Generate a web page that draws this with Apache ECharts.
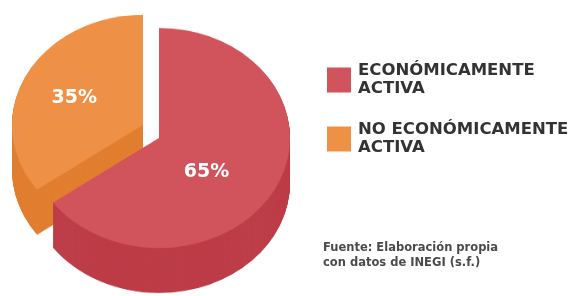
<!DOCTYPE html>
<html><head><meta charset="utf-8">
<script src="https://cdn.jsdelivr.net/npm/echarts@6/dist/echarts.min.js"></script>
<style>
html,body{margin:0;padding:0;background:#fff;overflow:hidden;width:572px;height:296px}
#pie{position:absolute;left:0;top:0;width:572px;height:353px;transform:scaleY(0.84);transform-origin:0 0}
#over{position:absolute;left:0;top:0;width:572px;height:296px}
</style></head><body>
<div id="pie"></div><div id="over"></div>
<script>
// ---- data ----
const categories = ['ECONÓMICAMENTE ACTIVA', 'NO ECONÓMICAMENTE ACTIVA'];
const values = [65, 35];
const sourceLines = ['Fuente: Elaboración propia', 'con datos de INEGI (s.f.)'];

// ---- style / layout ----
const TOP = ['#D1535B', '#EE9045'];
const SIDE = ['#BD3D48', '#E27F31'];
const S = 0.84;            // vertical squash of the pie (ellipse)
const R = 131;             // horizontal radius of the top face
const CENTERS = [[159, 138], [143, 125]]; // screen centres of top faces (orange exploded)
const DEPTH = 45;
const STEP = 0.5;

function sliceData(keep, color) {
  return categories.map((n, i) => ({
    name: n, value: values[i],
    itemStyle: { color: i === keep ? color : 'rgba(0,0,0,0)' }
  }));
}
function pieSeries(keep, color, cx, cyScreen) {
  return {
    type: 'pie', silent: true, animation: false,
    radius: [0, R], center: [cx, cyScreen / S],
    startAngle: 90, clockwise: true,
    label: { show: false }, labelLine: { show: false },
    emphasis: { disabled: true },
    itemStyle: { borderWidth: 0 },
    data: sliceData(keep, color)
  };
}
const pieSer = [];
[1, 0].forEach(k => {
  const [cx, cy] = CENTERS[k];
  for (let d = DEPTH; d > 0; d -= STEP) pieSer.push(pieSeries(k, SIDE[k], cx, cy + d));
  pieSer.push(pieSeries(k, TOP[k], cx, cy));
});
const pie = echarts.init(document.getElementById('pie'));
pie.setOption({ animation: false, series: pieSer });

function labelPie(k, r, dx, dy) {
  return {
    type: 'pie', animation: false, silent: true,
    radius: [0, r], center: CENTERS[k],
    startAngle: 90, clockwise: true,
    labelLine: { show: false },
    emphasis: { disabled: true },
    labelLayout: { dx: dx, dy: dy },
    data: categories.map((n, i) => ({
      name: n, value: values[i],
      itemStyle: { color: 'rgba(0,0,0,0)' },
      label: i === k ? {
        show: true, position: 'inside', formatter: '{d}%',
        color: '#ffffff', fontSize: 19, fontWeight: 900, fontFamily: 'DejaVu Sans'
      } : { show: false }
    }))
  };
}

const over = echarts.init(document.getElementById('over'));
over.setOption({
  animation: false,
  title: {
    text: sourceLines.join('\n'), left: 323, top: 241, padding: 0,
    textStyle: { fontSize: 11.5, fontWeight: 'bold', color: '#4a4a4a', lineHeight: 15, fontFamily: 'DejaVu Sans' }
  },
  legend: {
    orient: 'vertical', left: 322, top: 57, itemWidth: 24, itemHeight: 25, itemGap: 23,
    icon: 'rect', selectedMode: false,
    data: categories.map((n, i) => ({ name: n, itemStyle: { color: TOP[i], opacity: 1 } })),
    formatter: n => n.replace(/ ACTIVA$/, '\nACTIVA'),
    textStyle: { fontSize: 16.5, fontWeight: 900, color: '#333333', lineHeight: 18, fontFamily: 'DejaVu Sans', padding: [0, 0, 0, 2] }
  },
  series: [labelPie(0, 103, -1, 9), labelPie(1, 155, 3, 10)]
});
</script>
</body></html>
